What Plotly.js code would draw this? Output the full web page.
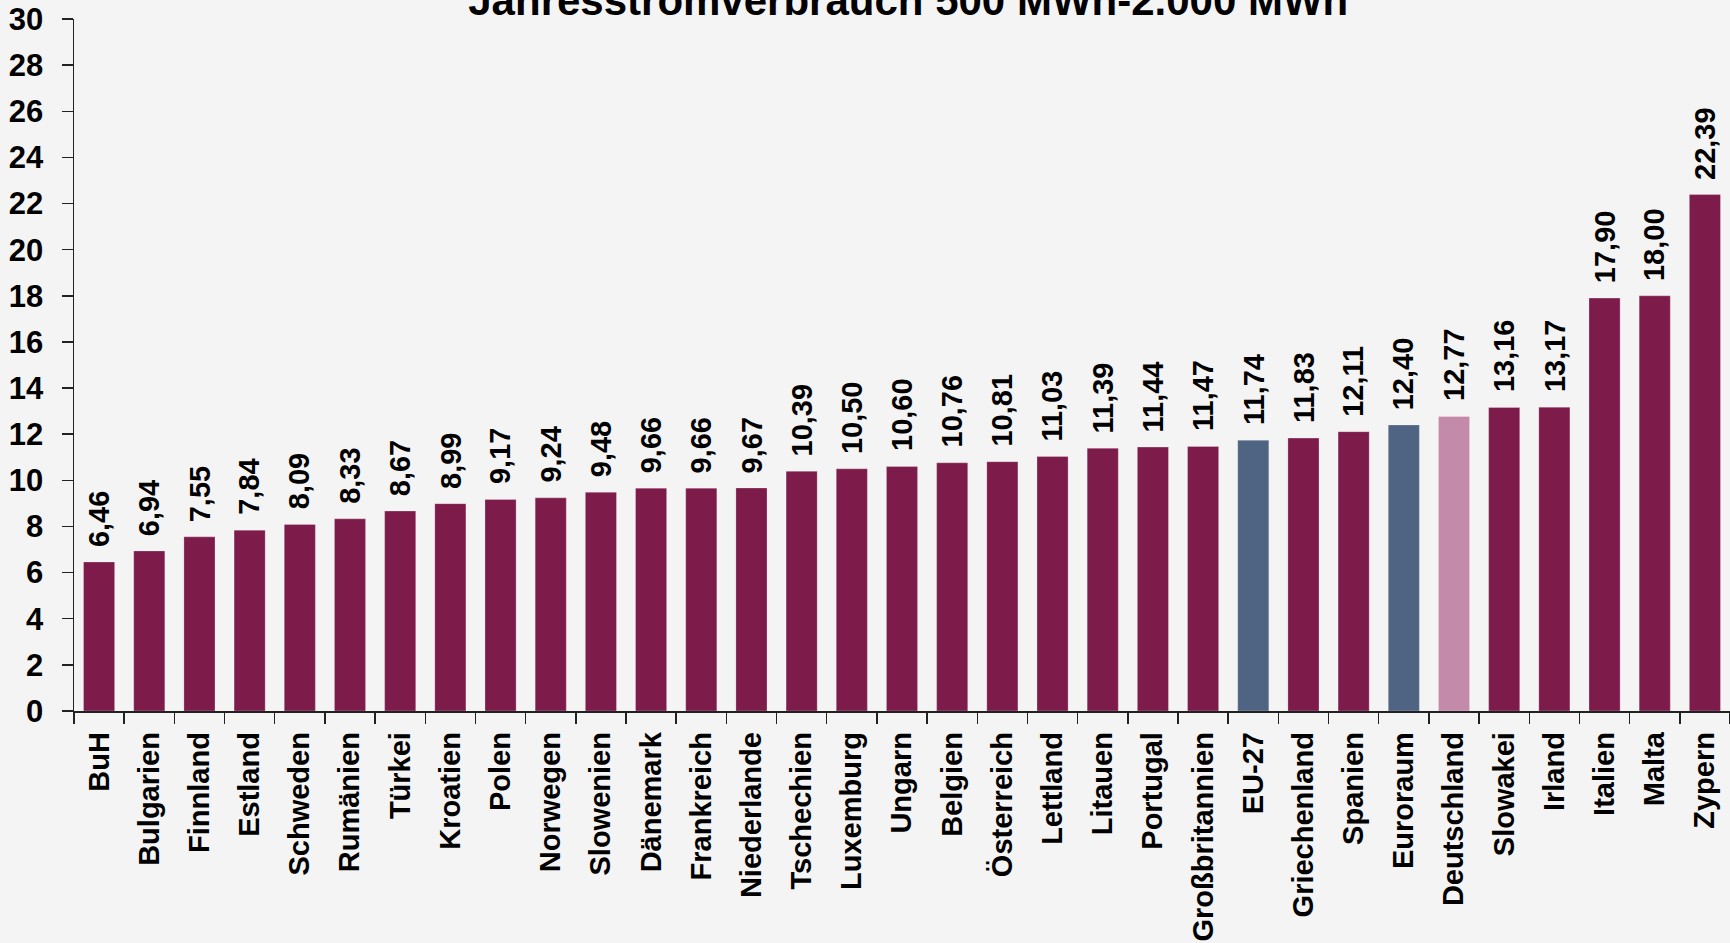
<!DOCTYPE html>
<html>
<head>
<meta charset="utf-8">
<script src="https://cdn.plot.ly/plotly-3.0.1.min.js"></script>
<style>
  html, body { margin: 0; padding: 0; background: #F4F4F4; }
  #chart { width: 1730px; height: 943px; }
</style>
</head>
<body>
<div id="chart"></div>
<script>
// ---- data ----
const titleText = "Jahresstromverbrauch 500 MWh-2.000 MWh";
const categories = ["BuH", "Bulgarien", "Finnland", "Estland", "Schweden", "Rumänien", "Türkei", "Kroatien", "Polen", "Norwegen", "Slowenien", "Dänemark", "Frankreich", "Niederlande", "Tschechien", "Luxemburg", "Ungarn", "Belgien", "Österreich", "Lettland", "Litauen", "Portugal", "Großbritannien", "EU-27", "Griechenland", "Spanien", "Euroraum", "Deutschland", "Slowakei", "Irland", "Italien", "Malta", "Zypern"];
const values = [6.46, 6.94, 7.55, 7.84, 8.09, 8.33, 8.67, 8.99, 9.17, 9.24, 9.48, 9.66, 9.66, 9.67, 10.39, 10.50, 10.60, 10.76, 10.81, 11.03, 11.39, 11.44, 11.47, 11.74, 11.83, 12.11, 12.40, 12.77, 13.16, 13.17, 17.90, 18.00, 22.39];
const aggregateCategories = ["EU-27", "Euroraum"];
const highlightCategories = ["Deutschland"];
const yTickValues = [0, 2, 4, 6, 8, 10, 12, 14, 16, 18, 20, 22, 24, 26, 28, 30];

// ---- styles ----
const MAROON = "#7D1C4A";
const BLUE = "#4F6382";
const PINK = "#C38BA9";
const BG = "#F4F4F4";
const ARIAL = "'Liberation Sans', Arial, sans-serif";

function colorFor(name) {
  if (highlightCategories.includes(name)) return PINK;
  if (aggregateCategories.includes(name)) return BLUE;
  return MAROON;
}
const fmt = v => v.toFixed(2).replace('.', ',');

const trace = {
  type: 'bar',
  x: categories,
  y: values,
  marker: {
    color: categories.map(colorFor),
    line: { color: 'rgba(255,255,255,0.25)', width: 1 }
  },
  hoverinfo: 'x+y'
};

const annotations = categories.map((c, i) => ({
  x: c, y: values[i], xref: 'x', yref: 'y',
  text: fmt(values[i]),
  showarrow: false,
  textangle: -90,
  xanchor: 'center', yanchor: 'bottom',
  yshift: 13,
  font: { family: ARIAL, size: 29, color: '#000', weight: 'bold' }
}));

const layout = {
  width: 1730, height: 943,
  paper_bgcolor: BG, plot_bgcolor: BG,
  margin: { l: 74, r: 0, t: 19, b: 232 },
  bargap: 0.38,
  showlegend: false,
  title: {
    text: titleText,
    font: { family: ARIAL, size: 42, color: '#000', weight: 'bold' },
    xref: 'container', yref: 'container',
    x: 0.525, xanchor: 'center',
    y: 1, yanchor: 'middle'
  },
  xaxis: {
    type: 'category',
    showline: true, linecolor: '#222', linewidth: 1.5,
    ticks: 'outside', ticklen: 11, tickcolor: '#222', tickwidth: 1.5,
    tickson: 'boundaries',
    tickangle: -90,
    ticklabelstandoff: 8,
    tickfont: { family: ARIAL, size: 29, color: '#000', weight: 'bold' },
    showgrid: false, zeroline: false
  },
  yaxis: {
    range: [0, 30],
    tickmode: 'array', tickvals: yTickValues, ticktext: yTickValues.map(String),
    showline: true, linecolor: '#222', linewidth: 1.5,
    ticks: 'outside', ticklen: 11, tickcolor: '#222', tickwidth: 1.5,
    ticklabelstandoff: 12,
    ticklabeloverflow: 'allow',
    tickfont: { family: ARIAL, size: 31, color: '#000', weight: 'bold' },
    showgrid: false, zeroline: false
  },
  annotations: annotations
};

Plotly.newPlot('chart', [trace], layout, { displayModeBar: false, staticPlot: true });
</script>
</body>
</html>
